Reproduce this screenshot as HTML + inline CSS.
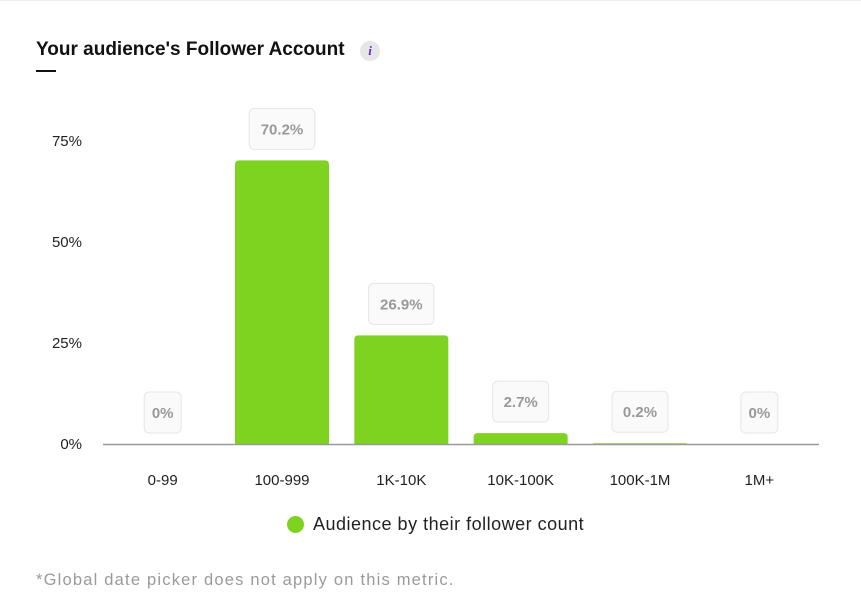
<!DOCTYPE html>
<html><head><meta charset="utf-8"><style>
body{margin:0;background:#fff;width:861px;height:598px;overflow:hidden;font-family:"Liberation Sans",sans-serif;}
</style></head><body>
<div style="position:absolute;left:0;top:0;width:861px;height:1px;background:#eee"></div>
<div style="position:absolute;left:36px;top:39px;font-size:19px;font-weight:bold;color:#111">Your audience's Follower Account</div>
<div style="position:absolute;left:36px;top:70px;width:20px;height:2px;background:#111"></div>
<div style="position:absolute;left:360px;top:41px;width:20px;height:20px;border-radius:50%;background:#e6e6e6;color:#5b2bd6;font-style:italic;font-weight:bold;font-size:13px;text-align:center;line-height:20px;font-family:'Liberation Serif',serif">i</div>
<svg id="chart" width="861" height="598" style="position:absolute;left:0;top:0"></svg>
<div style="position:absolute;left:287px;top:514px;font-size:18px;letter-spacing:0.5px;color:#222;display:flex;align-items:center">
<span style="width:17px;height:17px;border-radius:50%;background:#7ed321;display:inline-block;margin-right:9px"></span><span>Audience by their follower count</span></div>
<div style="position:absolute;left:36px;top:571px;font-size:16.5px;letter-spacing:1.2px;color:#9a9a9a">*Global date picker does not apply on this metric.</div>
<script>
const categories=["0-99","100-999","1K-10K","10K-100K","100K-1M","1M+"];
const values=[0,70.2,26.9,2.7,0.2,0];
const valueLabels=["0%","70.2%","26.9%","2.7%","0.2%","0%"];
const yTicks=[0,25,50,75];
const yTickLabels=["0%","25%","50%","75%"];
const svg=document.getElementById('chart');
const NS='http://www.w3.org/2000/svg';
const x0=103,x1=819,y0=444,pxPer=4.04;
const band=(x1-x0)/categories.length;
const y=v=>y0-v*pxPer;
const xc=i=>x0+band*(i+0.5);
function mk(t,a){const e=document.createElementNS(NS,t);for(const k in a)e.setAttribute(k,a[k]);svg.appendChild(e);return e;}
yTicks.forEach((t,i)=>{const e=mk('text',{x:82,y:y(t)+5,'text-anchor':'end','font-size':15,fill:'#222'});e.textContent=yTickLabels[i];

});
categories.forEach((c,i)=>{
 const h=values[i]*pxPer,w=94,bx=xc(i)-w/2,top=y(values[i]);
 if(h>0){const r=Math.min(4,h);const b=mk('path',{d:`M${bx},${y0} V${top+r} Q${bx},${top} ${bx+r},${top} H${bx+w-r} Q${bx+w},${top} ${bx+w},${top+r} V${y0} Z`,fill:'#7ed321'});
 
 }
 const lbl=valueLabels[i];const bw=lbl.length*9.5+18;
 const rect=mk('rect',{x:xc(i)-bw/2,y:top-11-41,width:bw,height:41,rx:5,fill:'#fafafa',stroke:'#e6e6e6'});
 
 
 const t=mk('text',{x:xc(i),y:top-11-15,'text-anchor':'middle','font-size':15,'font-weight':'bold',fill:'#999'});t.textContent=lbl;
 
 
 const xl=mk('text',{x:xc(i),y:485,'text-anchor':'middle','font-size':15,fill:'#222'});xl.textContent=c;
 
 
});
const ax=mk('line',{x1:x0,x2:x1,y1:y0+0.5,y2:y0+0.5,stroke:'#999','stroke-width':1.5});


</script>
</body></html>
